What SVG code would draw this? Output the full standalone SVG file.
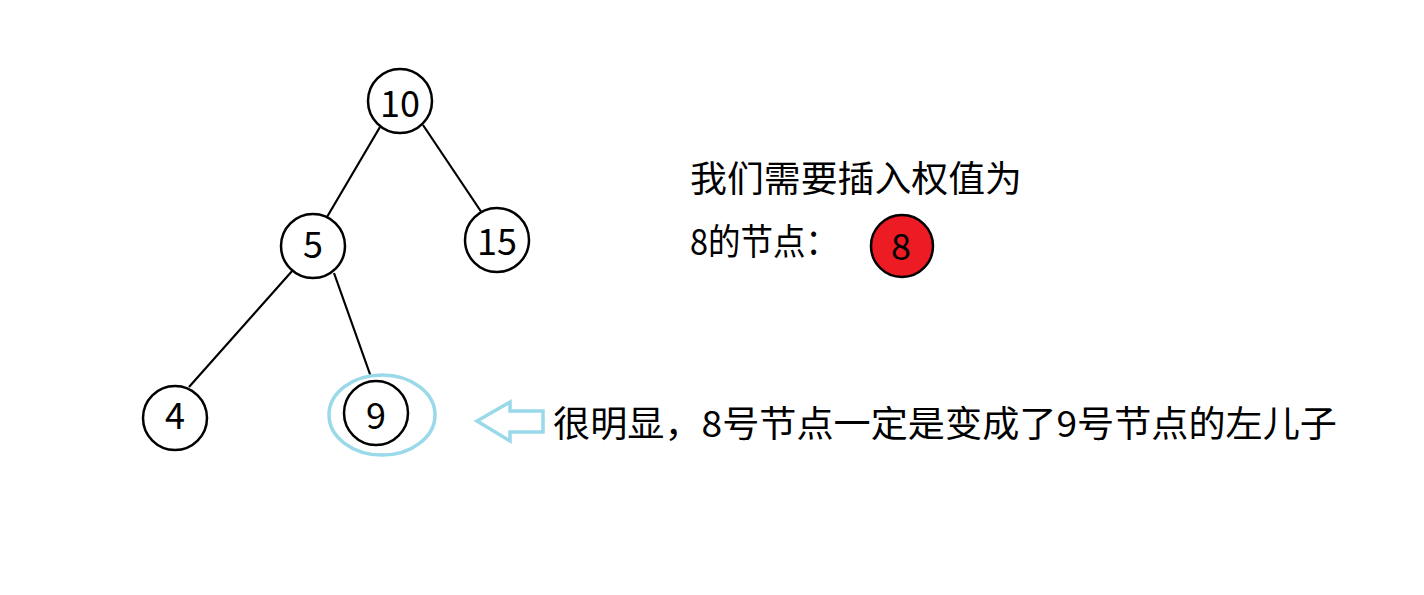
<svg xmlns="http://www.w3.org/2000/svg" width="1424" height="595" viewBox="0 0 1424 595">
<style>
.n{fill:#fff;stroke:#000;stroke-width:2.5}
.t{font-family:"Noto Sans CJK SC","Noto Sans",sans-serif;font-size:36px;fill:#000}
.d{text-anchor:middle}
.e{stroke:#000;stroke-width:2.2;fill:none}
.hl{fill:none;stroke:#99D9EA;stroke-width:3.5}
</style>
<rect width="1424" height="595" fill="#fff"/>
<g id="edges">
<line class="e" x1="380" y1="127" x2="327" y2="217"/>
<line class="e" x1="423" y1="125" x2="482" y2="213"/>
<line class="e" x1="293" y1="270" x2="189" y2="387"/>
<line class="e" x1="334" y1="273" x2="371" y2="377"/>
</g>
<g id="n10"><circle class="n" cx="400" cy="101" r="32"/><text class="t d" x="400" y="117">10</text></g>
<g id="n5"><circle class="n" cx="313" cy="246" r="32"/><text class="t d" x="313" y="258">5</text></g>
<g id="n15"><circle class="n" cx="497" cy="240" r="32"/><text class="t d" x="497" y="255">15</text></g>
<g id="n4"><circle class="n" cx="175" cy="418" r="32"/><text class="t d" x="175" y="429">4</text></g>
<g id="n9"><circle class="n" cx="376" cy="413" r="32"/><text class="t d" x="376" y="429">9</text></g>
<g id="highlight"><ellipse class="hl" cx="382" cy="415" rx="53" ry="40"/></g>
<g id="arrow"><polygon class="hl" points="477,421 510,402 510,411 543,411 543,432 510,432 510,441"/></g>
<g id="n8"><circle cx="902" cy="246" r="31" fill="#ED1C24" stroke="#000" stroke-width="2.5"/><text class="t d" x="901" y="260">8</text></g>
<g id="labels">
<text class="t" x="690" y="192" textLength="332" lengthAdjust="spacingAndGlyphs">我们需要插入权值为</text>
<text class="t" x="690" y="255" textLength="148" lengthAdjust="spacingAndGlyphs">8的节点：</text>
<text class="t" x="553" y="437" textLength="784" lengthAdjust="spacingAndGlyphs">很明显，8号节点一定是变成了9号节点的左儿子</text>
</g>
</svg>
